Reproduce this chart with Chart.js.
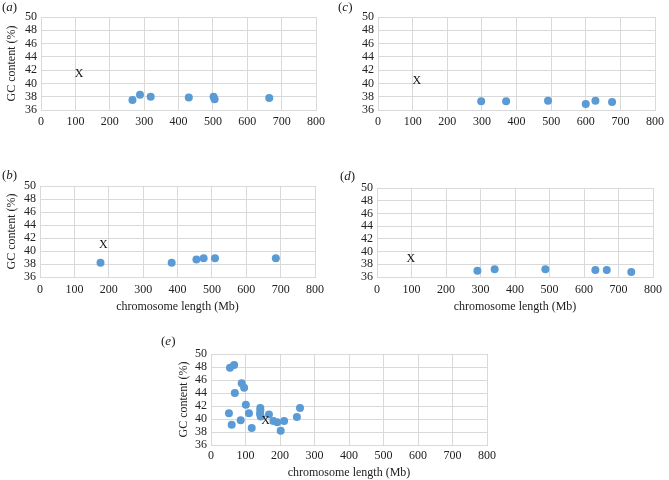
<!DOCTYPE html>
<html>
<head>
<meta charset="utf-8">
<script src="https://cdn.jsdelivr.net/npm/chart.js@4"></script>
<style>
  html, body { margin:0; padding:0; background:#fff; }
  body { width:669px; height:480px; position:relative; overflow:hidden; font-family:"Liberation Serif", serif; }
  .wrap { position:absolute; }
  .lbl { position:absolute; font-family:"Liberation Serif", serif; font-size:13px; line-height:14px; color:#222; }
</style>
</head>
<body>
<div class="wrap" id="wa" style="left:0;top:0;width:330px;height:135px"><canvas id="ca"></canvas></div>
<div class="wrap" id="wc" style="left:335px;top:0;width:334px;height:135px"><canvas id="cc"></canvas></div>
<div class="wrap" id="wb" style="left:0;top:150px;width:330px;height:164px"><canvas id="cb"></canvas></div>
<div class="wrap" id="wd" style="left:335px;top:150px;width:334px;height:164px"><canvas id="cd"></canvas></div>
<div class="wrap" id="we" style="left:150px;top:330px;width:350px;height:150px"><canvas id="ce"></canvas></div>

<div class="lbl" style="left:2px;top:0px">(<i>a</i>)</div>
<div class="lbl" style="left:338px;top:0px">(<i>c</i>)</div>
<div class="lbl" style="left:2px;top:168px">(<i>b</i>)</div>
<div class="lbl" style="left:340px;top:169px">(<i>d</i>)</div>
<div class="lbl" style="left:161px;top:334px">(<i>e</i>)</div>

<script>
// ---- data ----
const xTicks = [0, 100, 200, 300, 400, 500, 600, 700, 800];
const yTicks = [36, 38, 40, 42, 44, 46, 48, 50];
const xAxisLabel = "chromosome length (Mb)";
const yAxisLabel = "GC content (%)";

const lenA = [266, 288, 319, 430, 502, 505, 664];
const gcA  = [37.5, 38.3, 38.0, 37.9, 38.0, 37.6, 37.8];
const markA = [111, 41.5];

const lenC = [298, 370, 491, 600, 628, 676];
const gcC  = [37.3, 37.3, 37.4, 36.9, 37.4, 37.2];
const markC = [112, 40.4];

const lenB = [176, 383, 455, 476, 509, 686];
const gcB  = [38.2, 38.2, 38.7, 38.9, 38.9, 38.9];
const markB = [184, 41.0];

const lenD = [291, 341, 488, 633, 666, 737];
const gcD  = [37.0, 37.2, 37.2, 37.1, 37.1, 36.8];
const markD = [98, 38.9];

const lenE = [55, 67, 89, 96, 69, 101, 52, 110, 60, 86, 118, 143, 143, 142, 144, 168, 181, 192, 202, 212, 249, 258];
const gcE  = [47.9, 48.3, 45.5, 44.8, 44.0, 42.2, 40.9, 40.9, 39.1, 39.8, 38.6, 41.7, 41.3, 40.8, 40.4, 40.7, 39.7, 39.5, 38.2, 39.7, 40.3, 41.7];
const markE = [158, 39.7];

// ---- rendering ----
const FONT = "Liberation Serif";
const GRID = "#d9d9d9";

const xMarkPlugin = {
  id: 'xMark',
  afterDatasetsDraw(chart, args, opts) {
    if (!opts || !opts.pos) return;
    const ctx = chart.ctx;
    const xs = chart.scales.x, ys = chart.scales.y;
    ctx.save();
    ctx.font = '12px "' + FONT + '"';
    ctx.fillStyle = '#111';
    ctx.textAlign = 'center';
    ctx.textBaseline = 'middle';
    ctx.fillText('X', xs.getPixelForValue(opts.pos[0]), ys.getPixelForValue(opts.pos[1]));
    ctx.restore();
  }
};

function makePanel(id, cfg) {
  const xs = cfg.xs, ys = cfg.ys;
  const pts = xs.map((v, i) => ({x: v, y: ys[i]}));
  new Chart(document.getElementById(id), {
    type: 'scatter',
    data: { datasets: [{ data: pts, backgroundColor: '#5b9bd5', borderWidth: 0, pointRadius: 4, pointHoverRadius: 4 }] },
    options: {
      responsive: true,
      maintainAspectRatio: false,
      animation: false,
      events: [],
      layout: { autoPadding: false, padding: { top: cfg.padTop, right: cfg.padRight, left: 0, bottom: 0 } },
      plugins: { legend: { display: false }, tooltip: { enabled: false }, xMark: { pos: cfg.mark } },
      scales: {
        x: {
          type: 'linear', min: xTicks[0], max: xTicks[xTicks.length - 1],
          afterBuildTicks: s => { s.ticks = xTicks.map(v => ({value: v})); },
          afterFit: s => { s.height = cfg.xH; },
          grid: { color: GRID, drawTicks: false },
          border: { color: GRID },
          ticks: { color: '#222', font: { family: FONT, size: 12 }, padding: cfg.xPad, autoSkip: false, maxRotation: 0 },
          title: { display: cfg.xTitle, text: xAxisLabel, color: '#222', font: { family: FONT, size: 12 }, padding: 0 }
        },
        y: {
          type: 'linear', min: yTicks[0], max: yTicks[yTicks.length - 1],
          afterBuildTicks: s => { s.ticks = yTicks.map(v => ({value: v})); },
          afterFit: s => { s.width = cfg.yW; },
          grid: { color: GRID, drawTicks: false },
          border: { color: GRID },
          ticks: { color: '#222', font: { family: FONT, size: 12, lineHeight: 1 }, padding: 4, autoSkip: false },
          title: { display: cfg.yTitle, text: yAxisLabel, color: '#222', font: { family: FONT, size: 12 }, padding: { top: cfg.yTitlePad, bottom: 0 } }
        }
      }
    },
    plugins: [xMarkPlugin]
  });
}

makePanel('ca', { xs: lenA, ys: gcA, mark: markA, padTop: 17, padRight: 12, yW: 41, xH: 25, xPad: 5, xTitle: false, yTitle: true, yTitlePad: 5 });
makePanel('cc', { xs: lenC, ys: gcC, mark: markC, padTop: 17, padRight: 11, yW: 43, xH: 25, xPad: 5, xTitle: false, yTitle: false, yTitlePad: 0 });
makePanel('cb', { xs: lenB, ys: gcB, mark: markB, padTop: 36, padRight: 11, yW: 40, xH: 37, xPad: 6, xTitle: true, yTitle: true, yTitlePad: 5 });
makePanel('cd', { xs: lenD, ys: gcD, mark: markD, padTop: 38, padRight: 16, yW: 42, xH: 37, xPad: 6, xTitle: true, yTitle: false, yTitlePad: 0 });
makePanel('ce', { xs: lenE, ys: gcE, mark: markE, padTop: 24, padRight: 12, yW: 61, xH: 35, xPad: 4, xTitle: true, yTitle: true, yTitlePad: 27 });
</script>
</body>
</html>
